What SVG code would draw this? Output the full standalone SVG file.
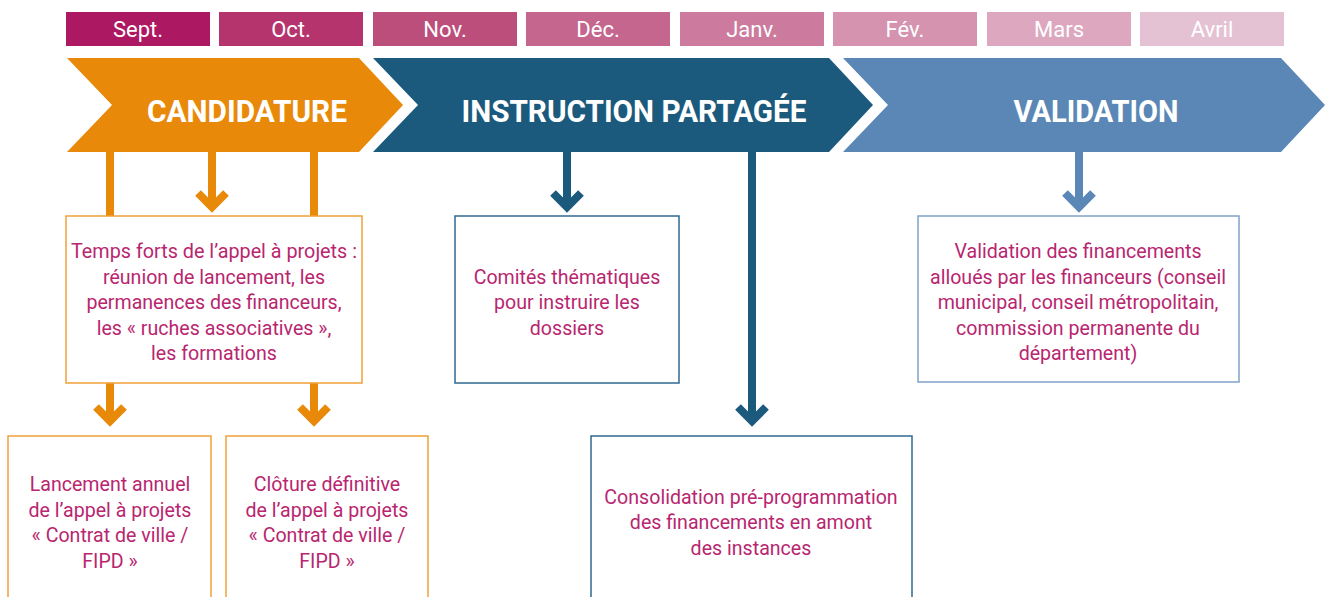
<svg xmlns="http://www.w3.org/2000/svg" xmlns:xlink="http://www.w3.org/1999/xlink" width="1326" height="597" viewBox="0 0 1326 597">
  <style>
    .month text { font-family: Roboto, "Liberation Sans", sans-serif; font-size: 22px; fill: #ffffff; text-anchor: middle; }
    .phase text { font-family: Roboto, "Liberation Sans", sans-serif; font-weight: bold; font-size: 32px; fill: #ffffff; text-anchor: middle; }
    .box rect { fill: #ffffff; stroke-width: 1.5; }
    .box text { font-family: Roboto, "Liberation Sans", sans-serif; font-size: 19.6px; fill: #B8266F; text-anchor: middle; }
    .o-box rect { stroke: #F0A139; }
    .d-box rect { stroke: #2F6890; }
    .l-box rect { stroke: #7FA2C9; }
    .stem { stroke-width: 8; fill: none; }
    .head { stroke-width: 8; fill: none; stroke-linejoin: miter; stroke-miterlimit: 4; }
    .orange { stroke: #E8890A; }
    .dark { stroke: #1B5A7D; }
    .light { stroke: #5A87B6; }
  </style>
  <defs>
    <!-- open V arrowhead, tip at the origin -->
    <path id="head" d="M-14,-14 L0,0 L14,-14"/>
  </defs>

  <rect width="1326" height="597" fill="#ffffff"/>

  <!-- month bar -->
  <g id="months" class="month">
    <rect x="66" y="12" width="144" height="34" fill="#AD1862"/>
    <text x="138" y="37">Sept.</text>
    <rect x="219" y="12" width="144" height="34" fill="#B5346E"/>
    <text x="291" y="37">Oct.</text>
    <rect x="373" y="12" width="144" height="34" fill="#BC4E7C"/>
    <text x="445" y="37">Nov.</text>
    <rect x="526" y="12" width="144" height="34" fill="#C4668D"/>
    <text x="598" y="37">Déc.</text>
    <rect x="680" y="12" width="144" height="34" fill="#CC7A9E"/>
    <text x="752" y="37">Janv.</text>
    <rect x="833" y="12" width="144" height="34" fill="#D593AF"/>
    <text x="905" y="37">Fév.</text>
    <rect x="987" y="12" width="144" height="34" fill="#DDA8BF"/>
    <text x="1059" y="37">Mars</text>
    <rect x="1140" y="12" width="144" height="34" fill="#E5C2D3"/>
    <text x="1212" y="37">Avril</text>
  </g>

  <!-- connectors (drawn under the boxes) -->
  <g id="connectors">
    <!-- candidature -->
    <line class="stem orange" x1="110" y1="152" x2="110" y2="420"/>
    <use href="#head" xlink:href="#head" class="head orange" x="110" y="421"/>
    <line class="stem orange" x1="212" y1="152" x2="212" y2="206"/>
    <use href="#head" xlink:href="#head" class="head orange" x="212" y="207"/>
    <line class="stem orange" x1="314" y1="152" x2="314" y2="420"/>
    <use href="#head" xlink:href="#head" class="head orange" x="314" y="421"/>
    <!-- instruction -->
    <line class="stem dark" x1="567" y1="152" x2="567" y2="206"/>
    <use href="#head" xlink:href="#head" class="head dark" x="567" y="207"/>
    <line class="stem dark" x1="752" y1="152" x2="752" y2="420"/>
    <use href="#head" xlink:href="#head" class="head dark" x="752" y="421"/>
    <!-- validation -->
    <line class="stem light" x1="1079" y1="152" x2="1079" y2="206"/>
    <use href="#head" xlink:href="#head" class="head light" x="1079" y="207"/>
  </g>

  <!-- phase chevrons -->
  <g id="phase-candidature" class="phase">
    <polygon points="67,58 359,58 403,105 359,152 67,152 112,105" fill="#E8890A"/>
    <text x="247" y="122" textLength="200" lengthAdjust="spacingAndGlyphs">CANDIDATURE</text>
  </g>
  <g id="phase-instruction" class="phase">
    <polygon points="373,58 829,58 873,105 829,152 373,152 418,105" fill="#1B5A7D"/>
    <text x="634" y="122" textLength="345" lengthAdjust="spacingAndGlyphs">INSTRUCTION PARTAGÉE</text>
  </g>
  <g id="phase-validation" class="phase">
    <polygon points="843,58 1281,58 1325,105 1281,152 843,152 888,105" fill="#5A87B6"/>
    <text x="1096" y="122" textLength="165" lengthAdjust="spacingAndGlyphs">VALIDATION</text>
  </g>

  <!-- boxes -->
  <g id="box-temps-forts" class="box o-box">
    <rect x="66" y="216" width="296" height="167"/>
    <text x="214" y="258" textLength="286" lengthAdjust="spacingAndGlyphs">Temps forts de l’appel à projets :</text>
    <text x="214" y="284">réunion de lancement, les</text>
    <text x="214" y="309">permanences des financeurs,</text>
    <text x="214" y="335">les « ruches associatives »,</text>
    <text x="214" y="360">les formations</text>
  </g>
  <g id="box-lancement" class="box o-box">
    <rect x="8" y="436" width="203" height="170"/>
    <text x="110" y="491">Lancement annuel</text>
    <text x="110" y="517">de l’appel à projets</text>
    <text x="110" y="542">« Contrat de ville /</text>
    <text x="110" y="568">FIPD »</text>
  </g>
  <g id="box-cloture" class="box o-box">
    <rect x="226" y="436" width="202" height="170"/>
    <text x="327" y="491">Clôture définitive</text>
    <text x="327" y="517">de l’appel à projets</text>
    <text x="327" y="542">« Contrat de ville /</text>
    <text x="327" y="568">FIPD »</text>
  </g>
  <g id="box-comites" class="box d-box">
    <rect x="455" y="216" width="224" height="167"/>
    <text x="567" y="284">Comités thématiques</text>
    <text x="567" y="309">pour instruire les</text>
    <text x="567" y="335">dossiers</text>
  </g>
  <g id="box-consolidation" class="box d-box">
    <rect x="591" y="436" width="321" height="170"/>
    <text x="751" y="504">Consolidation pré-programmation</text>
    <text x="751" y="529">des financements en amont</text>
    <text x="751" y="555">des instances</text>
  </g>
  <g id="box-validation" class="box l-box">
    <rect x="918" y="216" width="321" height="166"/>
    <text x="1078" y="258">Validation des financements</text>
    <text x="1078" y="284">alloués par les financeurs (conseil</text>
    <text x="1078" y="309">municipal, conseil métropolitain,</text>
    <text x="1078" y="335">commission permanente du</text>
    <text x="1078" y="360">département)</text>
  </g>
</svg>
